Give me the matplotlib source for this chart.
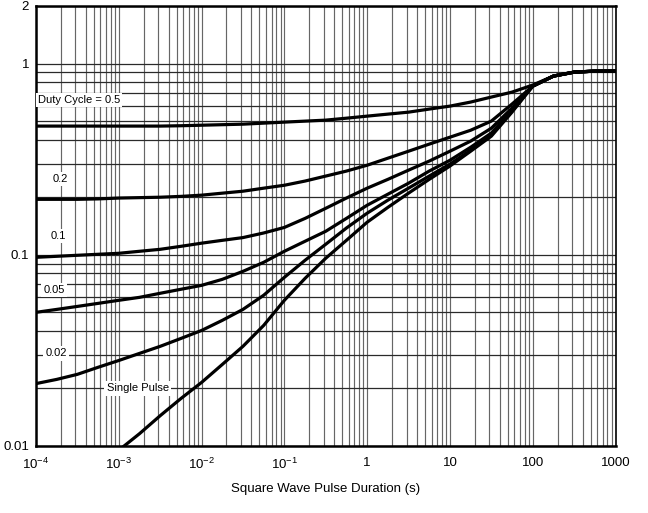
import numpy as np
import matplotlib

matplotlib.use("Agg")
import matplotlib.pyplot as plt
from matplotlib.ticker import FixedLocator, FixedFormatter, LogLocator, NullFormatter

plt.rcParams["font.family"] = ["Liberation Sans", "DejaVu Sans"]
plt.rcParams["mathtext.fontset"] = "custom"
plt.rcParams["mathtext.rm"] = "Liberation Sans"
plt.rcParams["mathtext.default"] = "regular"

# pulse duration (s), quarter-decade steps
x_vals = [1e-4, 1.78e-4, 3.16e-4, 5.62e-4, 1e-3, 1.78e-3, 3.16e-3, 5.62e-3,
          1e-2, 1.78e-2, 3.16e-2, 5.62e-2, 0.1, 0.178, 0.316, 0.562,
          1, 1.78, 3.16, 5.62, 10, 17.8, 31.6, 56.2, 100, 178, 316, 562, 1000]
x_single = x_vals[4:]

duty_05 = [0.471, 0.471, 0.471, 0.471, 0.471, 0.471, 0.471, 0.473,
           0.476, 0.479, 0.482, 0.488, 0.494, 0.500, 0.506, 0.518,
           0.531, 0.544, 0.557, 0.578, 0.599, 0.629, 0.668, 0.709,
           0.772, 0.860, 0.902, 0.913, 0.913]
duty_02 = [0.195, 0.195, 0.195, 0.196, 0.198, 0.199, 0.200, 0.202,
           0.205, 0.210, 0.215, 0.223, 0.231, 0.243, 0.258, 0.274,
           0.294, 0.320, 0.348, 0.379, 0.412, 0.448, 0.500, 0.614,
           0.762, 0.860, 0.902, 0.913, 0.913]
duty_01 = [0.0970, 0.0982, 0.0994, 0.1006, 0.1018, 0.1043, 0.1068, 0.1107,
           0.115, 0.119, 0.123, 0.130, 0.139, 0.155, 0.175, 0.198,
           0.223, 0.248, 0.277, 0.309, 0.348, 0.393, 0.459, 0.585,
           0.762, 0.860, 0.902, 0.913, 0.913]
duty_005 = [0.0500, 0.0518, 0.0537, 0.0557, 0.0578, 0.0599, 0.0629, 0.0660,
            0.0692, 0.0744, 0.0819, 0.0913, 0.1043, 0.1177, 0.1327, 0.155,
            0.1816, 0.2074, 0.2367, 0.274, 0.312, 0.365, 0.433, 0.571,
            0.762, 0.860, 0.902, 0.913, 0.913]
duty_002 = [0.0212, 0.0223, 0.0237, 0.0258, 0.0280, 0.0305, 0.0332, 0.0365,
            0.0402, 0.0454, 0.0518, 0.0614, 0.0762, 0.0936, 0.1135, 0.138,
            0.165, 0.193, 0.223, 0.258, 0.298, 0.352, 0.422, 0.564,
            0.762, 0.860, 0.902, 0.913, 0.913]
single_pulse = [0.0095, 0.0116, 0.0144, 0.0177, 0.0215, 0.0267, 0.0332, 0.0427,
                0.0578, 0.0753, 0.0959, 0.119, 0.148, 0.177, 0.210, 0.248,
                0.291, 0.348, 0.417, 0.557, 0.762, 0.860, 0.902, 0.913, 0.913]

x_ticks = [1e-4, 1e-3, 1e-2, 1e-1, 1, 10, 100, 1000]
x_ticklabels = [r"$10^{-4}$", r"$10^{-3}$", r"$10^{-2}$", r"$10^{-1}$", "1", "10", "100", "1000"]
y_ticks = [0.01, 0.1, 1, 2]
y_ticklabels = ["0.01", "0.1", "1", "2"]

# curve labels: text, x (centre), y
curve_labels = [
    ("Duty Cycle = 0.5", 3.3e-4, 0.644),
    ("0.2", 1.95e-4, 0.248),
    ("0.1", 1.85e-4, 0.125),
    ("0.05", 1.65e-4, 0.0652),
    ("0.02", 1.75e-4, 0.0305),
    ("Single Pulse", 1.69e-3, 0.020),
]

fig = plt.figure(figsize=(6.48, 5.13), dpi=100)
ax = fig.add_axes([36 / 648, 1 - 446 / 513, (615.5 - 36) / 648, (446 - 6) / 513])

ax.set_xscale("log")
ax.set_yscale("log")
ax.set_xlim(1e-4, 1000)
ax.set_ylim(0.01, 2)

ax.xaxis.set_major_locator(FixedLocator(x_ticks))
ax.xaxis.set_major_formatter(FixedFormatter(x_ticklabels))
ax.xaxis.set_minor_locator(LogLocator(base=10, subs=np.arange(2, 10)))
ax.xaxis.set_minor_formatter(NullFormatter())
ax.yaxis.set_major_locator(FixedLocator(y_ticks))
ax.yaxis.set_major_formatter(FixedFormatter(y_ticklabels))
ax.yaxis.set_minor_locator(LogLocator(base=10, subs=np.arange(2, 10)))
ax.yaxis.set_minor_formatter(NullFormatter())

ax.grid(True, which="both", axis="x", color="#666666", linewidth=0.85)
ax.grid(True, which="both", axis="y", color="#2a2a2a", linewidth=0.9)
ax.set_axisbelow(True)

ax.tick_params(which="both", length=0)
ax.tick_params(axis="x", pad=8, labelsize=9.5)
ax.tick_params(axis="y", pad=5, labelsize=9.5)

for series in [duty_05, duty_02, duty_01, duty_005, duty_002]:
    ax.plot(x_vals, series, color="black", linewidth=2.3, solid_joinstyle="round")
ax.plot(x_single, single_pulse, color="black", linewidth=2.3, solid_joinstyle="round")

for text, tx, ty in curve_labels:
    ax.text(tx, ty, text, fontsize=8, ha="center", va="center",
            bbox=dict(facecolor="white", edgecolor="none", pad=1.5), zorder=5)

for side in ["top", "bottom", "left"]:
    ax.spines[side].set_linewidth(1.8)
ax.spines["right"].set_linewidth(1.2)

ax.set_xlabel("Square Wave Pulse Duration (s)", fontsize=9.5, labelpad=8)

fig.savefig("out.png", dpi=100)
